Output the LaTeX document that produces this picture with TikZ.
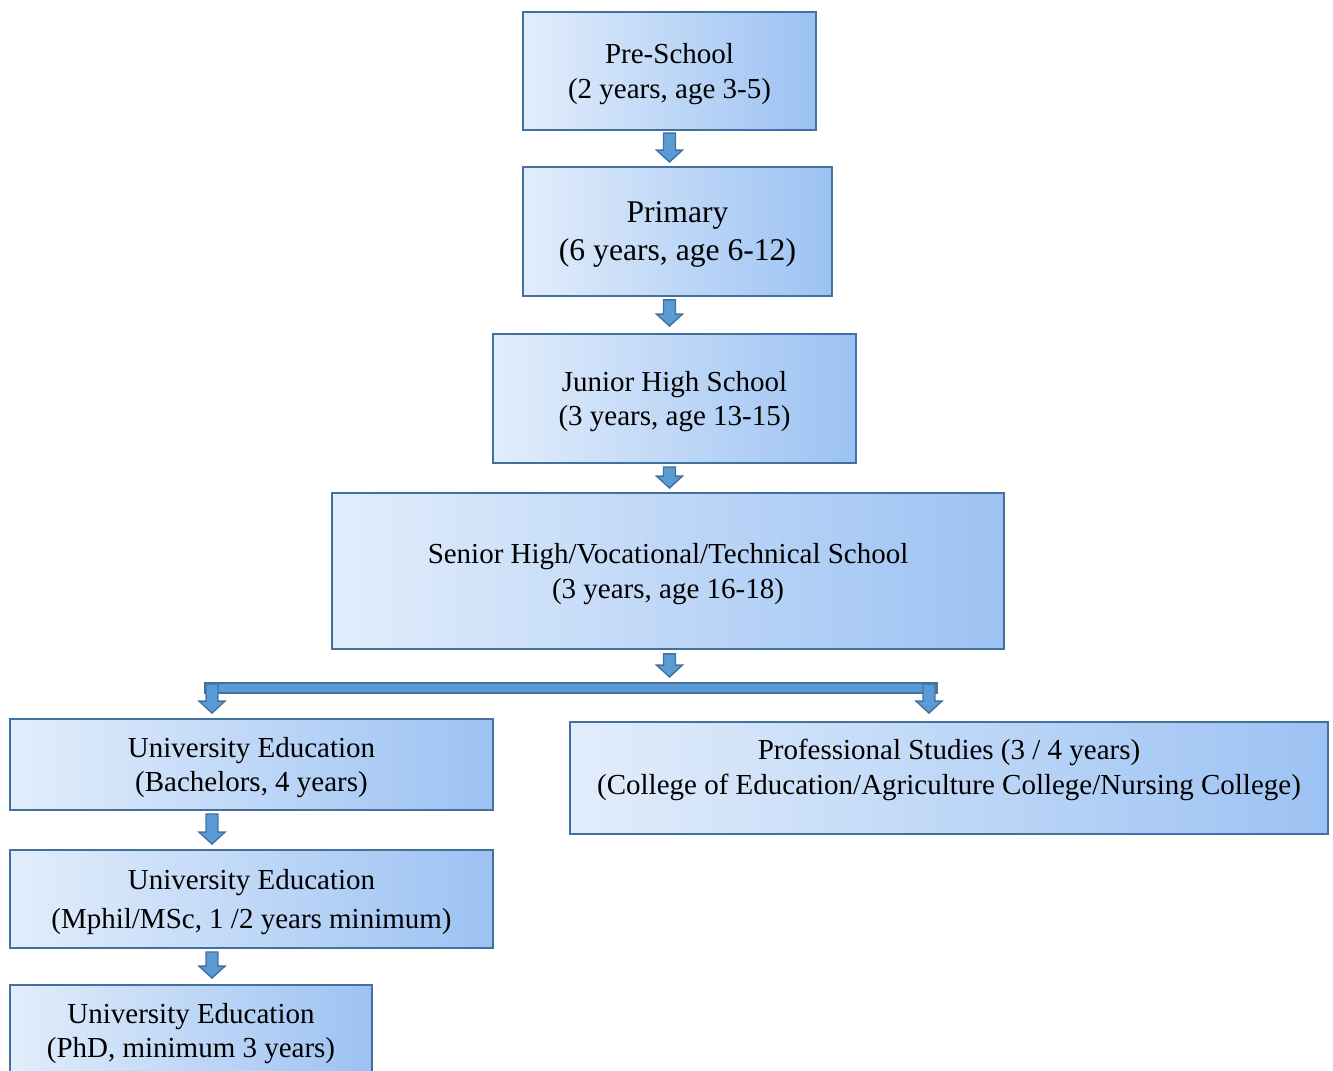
\documentclass[tikz,border=0pt]{standalone}
\usepackage{fontspec}
\setmainfont{Liberation Serif}
\usetikzlibrary{calc}
\definecolor{boxline}{RGB}{65,113,156}
\definecolor{boxleft}{RGB}{226,237,251}
\definecolor{boxright}{RGB}{156,194,243}
\definecolor{arrowfill}{RGB}{91,155,213}

\tikzset{
  stage/.style={draw=boxline, line width=1.1pt, left color=boxleft, right color=boxright,
    align=center, inner sep=0pt, text depth=-0.5pt, font=\fontsize{16.5}{19.8}\selectfont},
  stagetext/.style={align=center, inner sep=0pt, font=\fontsize{16.5}{19.8}\selectfont},
  blockarrow/.style={draw=boxline, fill=arrowfill, line width=0.8pt, line join=miter,
    to path={let \p1=(\tikztostart), \p2=(\tikztotarget) in
      (\x1-3.4pt,\y1) -- (\x1+3.4pt,\y1) -- (\x1+3.4pt,\y2+6.8pt) -- (\x1+7.4pt,\y2+6.8pt)
      -- (\x1,\y2) -- (\x1-7.4pt,\y2+6.8pt) -- (\x1-3.4pt,\y2+6.8pt) -- cycle}}
}

\begin{document}
\begin{tikzpicture}[x=0.02cm, y=-0.02cm]
  \useasboundingbox (0,0) rectangle (1333,1071);

  % school stages down the middle
  \node[stage, minimum width=5.86cm, minimum height=2.36cm] (pre) at (669.5,71)
    {Pre-School\\(2 years, age 3-5)};
  \node[stage, minimum width=6.18cm, minimum height=2.58cm,
    font=\fontsize{18}{21.6}\selectfont] (prim) at (677.5,231.5)
    {Primary\\(6 years, age 6-12)};
  \node[stage, minimum width=7.26cm, minimum height=2.58cm] (jun) at (674.5,398.5)
    {Junior High School\\(3 years, age 13-15)};
  \node[stage, minimum width=13.44cm, minimum height=3.12cm] (sen) at (668,571)
    {Senior High/Vocational/Technical School\\(3 years, age 16-18)};

  % tertiary level
  \node[stage, minimum width=9.66cm, minimum height=1.82cm] (bach) at (251.5,764.5)
    {University Education\\(Bachelors, 4 years)};
  \node[stage, minimum width=15.16cm, minimum height=2.24cm] (prof) at (949,778) {};
  \node[stagetext] (proftext) at (949,770)
    {Professional Studies (3 / 4 years)\\(College of Education/Agriculture College/Nursing College)};
  \node[stage, minimum width=9.66cm, minimum height=1.96cm] (mphil) at (251.5,899)
    {University Education\\[2.8pt](Mphil/MSc, 1 /2 years minimum)};
  \node[stage, minimum width=7.24cm, minimum height=2.6cm] (phd) at (191,1050) {};
  \node[stagetext] (phdtext) at (191,1033.5)
    {University Education\\(PhD, minimum 3 years)};

  % arrows between stages
  \draw[blockarrow] ([yshift=-1.2pt]pre.south) to ([yshift=2.3pt]prim.north);
  \draw[blockarrow] ($(prim.south -| pre.south)+(0,3)$) to ($(jun.north -| pre.south)+(0,-7)$);
  \draw[blockarrow] ($(jun.south -| pre.south)+(0,3)$) to ($(sen.north -| pre.south)+(0,-4)$);
  \draw[blockarrow] ($(sen.south -| pre.south)+(0,4)$) to (669,677);

  % split bar towards both branches
  \coordinate (lft) at (212,684);
  \coordinate (rgt) at (929,684);
  \draw[draw=boxline, fill=arrowfill, line width=0.8pt] (205,683) rectangle (937,693);
  \draw[blockarrow] (lft) to ($(lft |- bach.north)+(0,-5)$);
  \draw[blockarrow] (rgt) to ($(rgt |- prof.north)+(0,-8)$);

  \draw[blockarrow] ($(bach.south -| lft)+(0,3)$) to ($(mphil.north -| lft)+(0,-5)$);
  \draw[blockarrow] ($(mphil.south -| lft)+(0,3)$) to ($(phd.north -| lft)+(0,-6)$);
\end{tikzpicture}
\end{document}
